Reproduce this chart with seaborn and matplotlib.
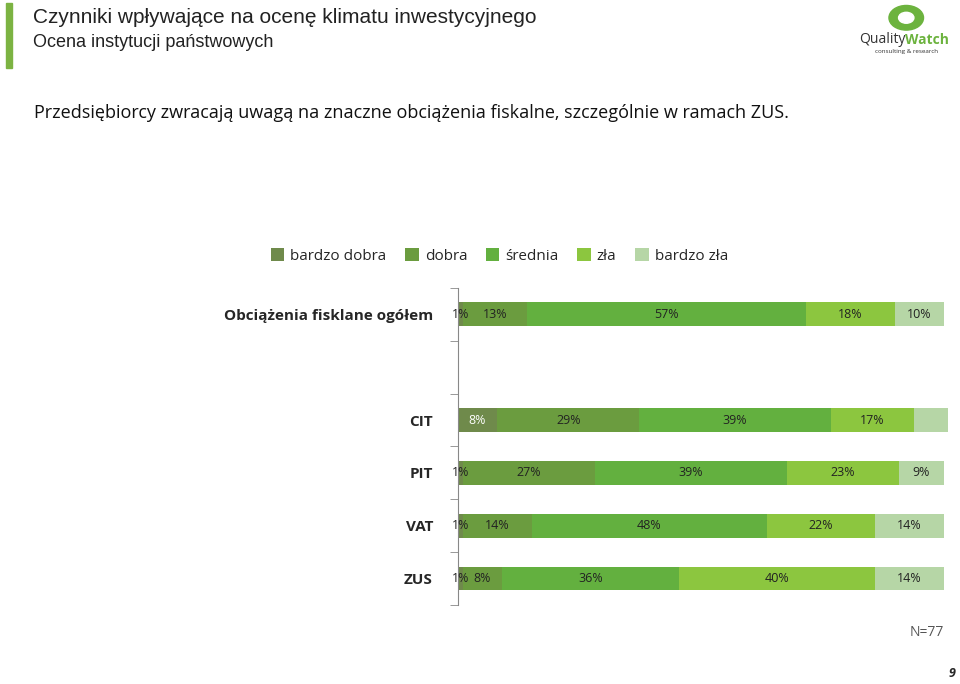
import matplotlib.pyplot as plt
import seaborn as sns
import numpy as np
from matplotlib.patches import Rectangle, Circle

sns.set_style("white")
plt.rcParams["font.family"] = "Open Sans"

# data
categories = ["Obciążenia fisklane ogółem", "", "CIT", "PIT", "VAT", "ZUS"]
levels = ["bardzo dobra", "dobra", "średnia", "zła", "bardzo zła"]
values = [
    [1, 13, 57, 18, 10],
    [0, 0, 0, 0, 0],
    [8, 29, 39, 17, 8],
    [1, 27, 39, 23, 9],
    [1, 14, 48, 22, 14],
    [1, 8, 36, 40, 14],
]
labels = [
    ["1%", "13%", "57%", "18%", "10%"],
    ["", "", "", "", ""],
    ["8%", "29%", "39%", "17%", ""],
    ["1%", "27%", "39%", "23%", "9%"],
    ["1%", "14%", "48%", "22%", "14%"],
    ["1%", "8%", "36%", "40%", "14%"],
]
colors = ["#6f8a4b", "#6b9c3f", "#63b03f", "#8cc63f", "#b6d6a6"]

fig = plt.figure(figsize=(9.6, 6.84), dpi=100)

# header
fig.patches.append(Rectangle((0.006, 0.9), 0.006, 0.095, transform=fig.transFigure,
                             color="#7cb342", zorder=0))
fig.text(0.034, 0.975, "Czynniki wpływające na ocenę klimatu inwestycyjnego",
         fontsize=15, va="center", family="Liberation Sans", color="#222222")
fig.text(0.034, 0.938, "Ocena instytucji państwowych", fontsize=13, va="center",
         family="Liberation Sans", color="#222222")
fig.patches.append(Circle((0.944, 0.974), 0.018, transform=fig.transFigure,
                          color="#6cb33e", zorder=1))
fig.patches.append(Circle((0.944, 0.974), 0.008, transform=fig.transFigure,
                          color="white", zorder=2))
fig.text(0.943, 0.942, "Quality", fontsize=10, ha="right", va="center", color="#333333")
fig.text(0.943, 0.942, "Watch", fontsize=10, ha="left", va="center", color="#6cb33e",
         weight="bold")
fig.text(0.944, 0.925, "consulting & research", fontsize=4.5, ha="center", va="center",
         color="#333333")
fig.text(0.035, 0.835, "Przedsiębiorcy zwracają uwagą na znaczne obciążenia fiskalne, szczególnie w ramach ZUS.",
         fontsize=13, va="center", color="#111111")

ax = fig.add_axes([0.477, 0.1155, 0.511, 0.4635])
vals = np.array(values, dtype=float)
ypos = np.arange(len(categories))
left = np.zeros(len(categories))
for j, lev in enumerate(levels):
    ax.barh(ypos, vals[:, j], left=left, height=0.45, color=colors[j], label=lev,
            linewidth=0)
    for i in range(len(categories)):
        if labels[i][j]:
            tc = "white" if (j == 0 and vals[i, j] > 3) else "#222222"
            ax.text(left[i] + vals[i, j] / 2, ypos[i], labels[i][j], ha="center",
                    va="center", fontsize=9, color=tc)
    left += vals[:, j]

ax.set_xlim(0, 100)
ax.set_ylim(len(categories) - 0.5, -0.5)
ax.set_yticks(ypos)
ax.set_yticklabels(categories, fontsize=11, weight="bold")
ax.set_yticks(np.arange(-0.5, len(categories)), minor=True)
ax.tick_params(axis="y", which="major", length=0, pad=18)
ax.tick_params(axis="y", which="minor", length=6, direction="out", color="#888888", left=True)
ax.set_xticks([])
for s in ["top", "right", "bottom"]:
    ax.spines[s].set_visible(False)
ax.spines["left"].set_color("#888888")

fig.legend(*ax.get_legend_handles_labels(), loc="center", bbox_to_anchor=(0.52, 0.626),
           ncol=5, frameon=False, fontsize=11, handlelength=0.9, handleheight=0.9,
           columnspacing=1.2, handletextpad=0.4)

fig.text(0.983, 0.07, "N=77", fontsize=10, ha="right", color="#555555")
fig.text(0.995, 0.01, "9", fontsize=9, ha="right", weight="bold", style="italic")

fig.savefig("out.png", dpi=100)
